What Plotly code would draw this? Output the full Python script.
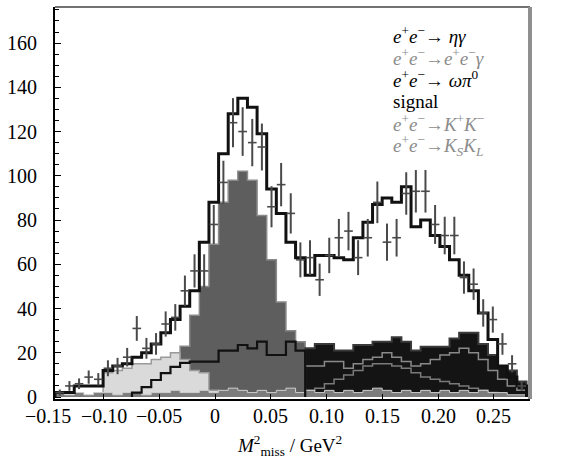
import plotly.graph_objects as go

# ---- data ----
x_start = -0.1435
bin_width = 0.00863
n_bins = 49

total_mc = [2, 2, 5, 5, 5, 12, 14, 15, 18, 20, 24, 29, 35, 41, 48, 70, 88, 110, 128, 135,
            131, 119, 94, 83, 70, 63, 55, 64, 64, 63, 62, 72, 79, 87, 90, 88, 95, 77, 80, 73,
            68, 62, 55, 48, 38, 26, 14, 9, 5]
data_counts = [2, 5, 6, 9, 8, 13, 14, 18, 31, 22, 24, 33, 36, 48, 57, 57, 78, 97, 124, 120,
               115, 113, 86, 96, 83, 62, 63, 53, 64, 72, 75, 63, 72, 88, 70, 72, 92, 93, 93, 78,
               73, 73, 54, 51, 38, 35, 24, 15, 5]
data_err = [1.4, 2.2, 2.4, 3.0, 2.8, 3.6, 3.7, 4.2, 5.6, 4.7, 4.9, 5.7, 6.0, 6.9, 7.5, 7.5, 8.8, 9.8, 11.1, 11.0,
            10.7, 10.6, 9.3, 9.8, 9.1, 7.9, 7.9, 7.3, 8.0, 8.5, 8.7, 7.9, 8.5, 9.4, 8.4, 8.5, 9.6, 9.6, 9.6, 8.8,
            8.5, 8.5, 7.3, 7.1, 6.2, 5.9, 4.9, 3.9, 2.2]
eta_gamma = [0, 0, 0, 0, 0, 0, 0, 0, 0, 0, 0, 0, 0, 23, 37, 50, 69, 88, 98, 102,
             98, 82, 62, 43, 30, 25, 16, 12, 8, 0, 0, 0, 0, 0, 0, 0, 0, 0, 0, 0,
             0, 0, 0, 0, 0, 0, 0, 0, 0]
ee_gamma = [0, 0, 0, 0, 0, 11, 12, 13, 15, 15, 17, 18, 20, 17, 12, 11, 3, 2, 0, 0,
            0, 0, 0, 0, 0, 0, 0, 0, 0, 0, 0, 0, 0, 0, 0, 0, 0, 0, 0, 0,
            0, 0, 0, 0, 0, 0, 0, 0, 0]
omega_pi0 = [0, 0, 0, 0, 0, 0, 0, 0, 2, 4.5, 7.7, 10.8, 13.6, 15.4, 16, 16, 16, 21, 21, 23.5,
             22, 25, 19, 19, 25, 21, 0, 0, 0, 0, 0, 0, 0, 0, 0, 0, 0, 0, 0, 0,
             0, 0, 0, 0, 0, 0, 0, 0, 0]
kaons_top = [0, 0, 0, 0, 0, 0, 0, 0, 0, 0, 0, 0, 0, 0, 0, 0, 0, 0, 0, 0,
             0, 0, 0, 0, 0, 0, 22, 24, 24, 21, 21, 23.5, 23.5, 25, 25, 27, 25, 21, 22.7, 22.7,
             22.7, 26.5, 29, 29, 24, 19, 14, 12, 7]
kpkm = [0, 0, 0, 0, 0, 0, 0, 0, 0, 0, 0, 0, 0, 0, 0, 0, 0, 0, 0, 0,
        0, 0, 0, 0, 0, 0, 14, 14, 16, 16, 13, 15, 17, 18, 20, 18, 16, 14, 15, 17,
        19, 20, 22, 20, 17, 12, 8, 5, 3]
kskl = [0, 0, 0, 0, 0, 0, 0, 0, 0, 0, 0, 0, 0, 0, 0, 0, 0, 0, 0, 0,
        0, 0, 0, 0, 0, 0, 3, 4, 6, 8, 10, 12, 14, 15, 15, 14, 13, 11, 9, 8,
        7, 6, 5, 4, 3, 2, 0, 0, 0]
baseline_band = [2, 1, 2, 1, 2, 2, 1, 2, 2, 1, 2, 2, 3, 2, 2, 3, 2, 3, 4, 3,
                 2, 3, 2, 3, 4, 2, 3, 2, 3, 2, 3, 2, 3, 4, 3, 2, 3, 2, 3, 2,
                 3, 2, 3, 2, 3, 2, 2, 1, 1]

x_tick_vals = [-0.15, -0.10, -0.05, 0.0, 0.05, 0.10, 0.15, 0.20, 0.25]
x_tick_text = ["\u22120.15", "\u22120.10", "\u22120.05", "0", "0.05", "0.10", "0.15", "0.20", "0.25"]
y_tick_vals = [0, 20, 40, 60, 80, 100, 120, 140, 160]

legend_lines = [
    ("<i>e</i><sup>+</sup><i>e</i><sup>\u2212</sup>\u2192 <i>\u03b7\u03b3</i>", "black"),
    ("<i>e</i><sup>+</sup><i>e</i><sup>\u2212</sup>\u2192<i>e</i><sup>+</sup><i>e</i><sup>\u2212</sup><i>\u03b3</i>", "#8c8c8c"),
    ("<i>e</i><sup>+</sup><i>e</i><sup>\u2212</sup>\u2192 <i>\u03c9\u03c0</i><sup>0</sup>", "black"),
    ("signal", "black"),
    ("<i>e</i><sup>+</sup><i>e</i><sup>\u2212</sup>\u2192<i>K</i><sup>+</sup><i>K</i><sup>\u2212</sup>", "#8c8c8c"),
    ("<i>e</i><sup>+</sup><i>e</i><sup>\u2212</sup>\u2192<i>K</i><sub><i>S</i></sub><i>K</i><sub><i>L</i></sub>", "#8c8c8c"),
]

X_RANGE = [-0.1435, 0.2825]
Y_RANGE = [-0.9, 176.3]
FONT = "Liberation Serif"

edges = [x_start + i * bin_width for i in range(n_bins + 1)]
centers = [x_start + (i + 0.5) * bin_width for i in range(n_bins)]


def step_xy(vals, trim=False):
    lo, hi = 0, len(vals)
    if trim:
        nz = [i for i, v in enumerate(vals) if v > 0]
        lo, hi = nz[0], nz[-1] + 1
    xs = [edges[lo]]
    ys = [0]
    for i in range(lo, hi):
        xs.append(edges[i])
        ys.append(vals[i])
    xs.append(edges[hi])
    ys.append(vals[hi - 1])
    xs.append(edges[hi])
    ys.append(0)
    return xs, ys


fig = go.Figure()


def add_hist(vals, fill=None, line_color="black", width=1.5, trim=True):
    xs, ys = step_xy(vals, trim=trim)
    fig.add_trace(go.Scatter(
        x=xs, y=ys, mode="lines", line=dict(shape="hv", color=line_color, width=width),
        fill="tozeroy" if fill else None, fillcolor=fill, hoverinfo="skip", showlegend=False))


add_hist(eta_gamma, fill="#5e5e5e", line_color="#8a8a8a", width=1.5)
add_hist(ee_gamma, fill="#dadada", line_color="#9a9a9a", width=1.5)
add_hist(kaons_top, fill="#141414", line_color="#3a3a3a", width=2)
add_hist(kpkm, line_color="#8a8a8a", width=1.5)
add_hist(kskl, line_color="#7a7a7a", width=1.5)
add_hist(baseline_band, fill="#7c7c7c", line_color="#cfcfcf", width=1)
add_hist(omega_pi0, line_color="#111111", width=2.2)
add_hist(total_mc, line_color="#111111", width=3)

fig.add_trace(go.Scatter(
    x=centers, y=data_counts, mode="markers",
    marker=dict(size=1, color="#444444"),
    error_y=dict(type="data", array=data_err, color="#4a4a4a", thickness=2, width=0),
    error_x=dict(type="constant", value=bin_width * 0.45, color="#4a4a4a", thickness=1.6, width=0),
    hoverinfo="skip", showlegend=False))

annotations = []
span = X_RANGE[1] - X_RANGE[0]
for v, t in zip(x_tick_vals, x_tick_text):
    annotations.append(dict(
        x=(v - X_RANGE[0]) / span, y=0, xref="paper", yref="paper",
        text=t, showarrow=False, xanchor="center", yanchor="top", yshift=-4,
        font=dict(family=FONT, size=20, color="black")))

annotations.append(dict(
    x=0.494, y=-0.118, xref="paper", yref="paper",
    text="<i>M</i><sup>2</sup><sub>miss</sub> / GeV<sup>2</sup>",
    showarrow=False, xanchor="center", yanchor="middle",
    font=dict(family=FONT, size=19, color="black")))

leg_y0 = 35
for i, (txt, col) in enumerate(legend_lines):
    py = leg_y0 + i * 22
    annotations.append(dict(
        x=(391 - 55) / 475, y=(399 - py) / 392, xref="paper", yref="paper",
        text=txt, showarrow=False, xanchor="left", yanchor="middle",
        font=dict(family=FONT, size=19, color=col)))

fig.update_layout(
    width=565, height=468,
    margin=dict(l=55, r=35, t=7, b=69),
    paper_bgcolor="white", plot_bgcolor="white",
    annotations=annotations,
    shapes=[
        dict(type="line", xref="paper", yref="paper", x0=0, x1=1, y0=1, y1=1,
             line=dict(color="#444444", width=1.5)),
        dict(type="line", xref="paper", yref="paper", x0=1, x1=1, y0=0, y1=1,
             line=dict(color="#8f8f8f", width=4)),
    ],
)
fig.update_xaxes(
    range=X_RANGE, showgrid=False, zeroline=False, showline=True, linecolor="black", linewidth=2,
    ticks="inside", ticklen=5, tickcolor="black", tickvals=[v for v in x_tick_vals if v > X_RANGE[0]],
    showticklabels=False)
fig.update_yaxes(
    range=Y_RANGE, showgrid=False, zeroline=False, showline=True, linecolor="black", linewidth=2,
    ticks="inside", ticklen=6, tickcolor="black", tickvals=y_tick_vals,
    minor=dict(ticks="inside", ticklen=4, dtick=5, tickcolor="black"),
    ticklabelstandoff=12, tickfont=dict(family=FONT, size=20, color="black"))

fig.write_html(
    "out.html",
    config={"displayModeBar": False},
    post_script="document.body.style.margin='0';document.body.style.overflow='hidden';")
